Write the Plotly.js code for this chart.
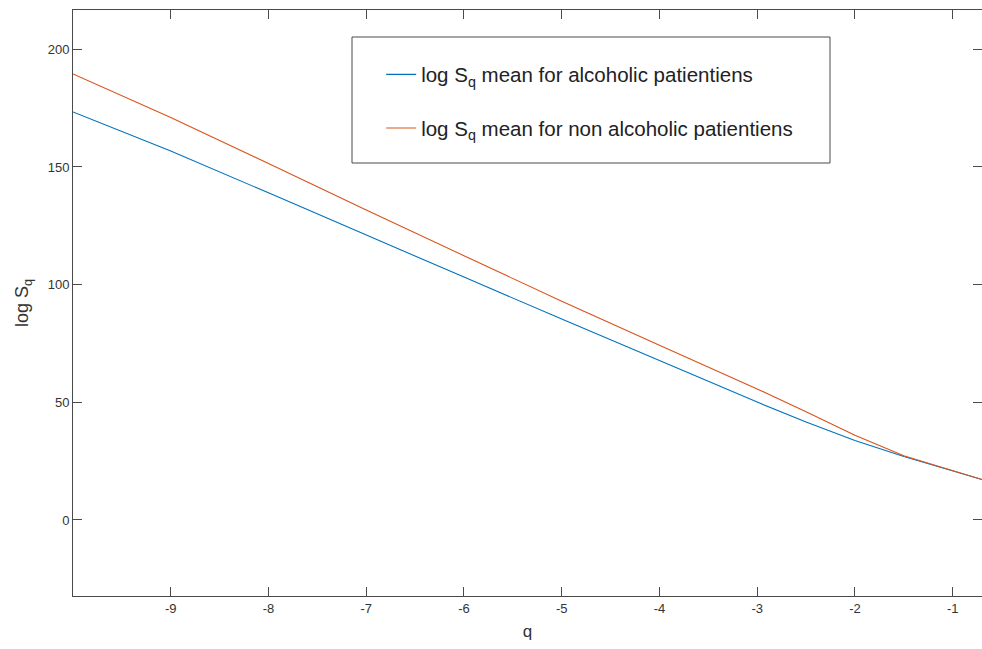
<!DOCTYPE html>
<html>
<head>
<meta charset="utf-8">
<script src="https://cdn.plot.ly/plotly-3.0.1.min.js"></script>
<style>
  html, body { margin: 0; padding: 0; background: #fff; }
  #chart { width: 982px; height: 649px; }
</style>
</head>
<body>
<div id="chart"></div>
<script>
// q values at which the mean log S_q was evaluated
const q = [-10, -9, -8, -7, -6, -5, -4, -3, -2.5, -2, -1.5, -1, -0.7];

// mean log S_q, alcoholic group
const logSqAlcoholic = [173.4, 156.8, 139.0, 121.0, 103.2, 85.4, 67.6, 50.1, 41.6, 33.8, 27.0, 21.0, 17.2];

// mean log S_q, non-alcoholic group
const logSqNonAlcoholic = [189.5, 171.0, 151.5, 131.7, 112.3, 92.9, 74.2, 55.7, 46.0, 36.0, 27.3, 21.0, 17.2];

const seriesNames = [
  'log S<sub>q</sub> mean for alcoholic patientiens',
  'log S<sub>q</sub> mean for non alcoholic patientiens'
];

const xTicks = [-9, -8, -7, -6, -5, -4, -3, -2, -1];
const xTickText = ['-9', '-8', '-7', '-6', '-5', '-4', '-3', '-2', '-1'];
const yTicks = [0, 50, 100, 150, 200];
const yTickText = ['0', '50', '100', '150', '200'];

const axisColor = '#4a4a4a';
const font = 'Liberation Sans, Arial, sans-serif';

const traces = [
  {
    x: q, y: logSqAlcoholic, name: seriesNames[0], type: 'scatter', mode: 'lines',
    line: { color: '#0072BD', width: 1.1 }, legendgroup: 'a'
  },
  {
    x: q, y: logSqNonAlcoholic, name: seriesNames[1], type: 'scatter', mode: 'lines',
    line: { color: '#D95319', width: 1.1 }, legendgroup: 'b'
  }
];

const layout = {
  width: 982, height: 649,
  margin: { l: 73, r: 0, t: 10, b: 53 },
  paper_bgcolor: '#fff', plot_bgcolor: '#fff',
  font: { family: font, color: '#333' },
  showlegend: true,
  legend: {
    x: 0.339, y: 0.924, xanchor: 'left', yanchor: 'top',
    bgcolor: 'rgba(0,0,0,0)', borderwidth: 0,
    font: { size: 20.5, color: '#222', family: font },
    tracegroupgap: 24
  },
  shapes: [
    {
      type: 'rect', xref: 'paper', yref: 'paper',
      x0: (352 - 73) / 909, x1: (830 - 73) / 909,
      y0: (596 - 163) / 586, y1: (596 - 37) / 586,
      line: { color: axisColor, width: 1 }, fillcolor: 'rgba(0,0,0,0)'
    }
  ],
  xaxis: {
    range: [-10, -0.7],
    tickvals: xTicks, ticktext: xTickText,
    ticks: 'inside', ticklen: 9, tickcolor: axisColor, tickwidth: 1,
    showline: true, linecolor: axisColor, linewidth: 1, mirror: 'ticks',
    showgrid: false, zeroline: false,
    tickfont: { size: 13, color: '#333' },
    title: { text: 'q', font: { size: 17, color: '#333' }, standoff: 10 }
  },
  yaxis: {
    range: [-32.3, 216.7],
    tickvals: yTicks, ticktext: yTickText,
    ticks: 'inside', ticklen: 9, tickcolor: axisColor, tickwidth: 1,
    showline: true, linecolor: axisColor, linewidth: 1, mirror: 'ticks',
    showgrid: false, zeroline: false,
    tickfont: { size: 13, color: '#333' },
    title: { text: 'log S<sub>q</sub>', font: { size: 18, color: '#333' }, standoff: 14 }
  }
};

Plotly.newPlot('chart', traces, layout, { displayModeBar: false, staticPlot: true });
</script>
</body>
</html>
